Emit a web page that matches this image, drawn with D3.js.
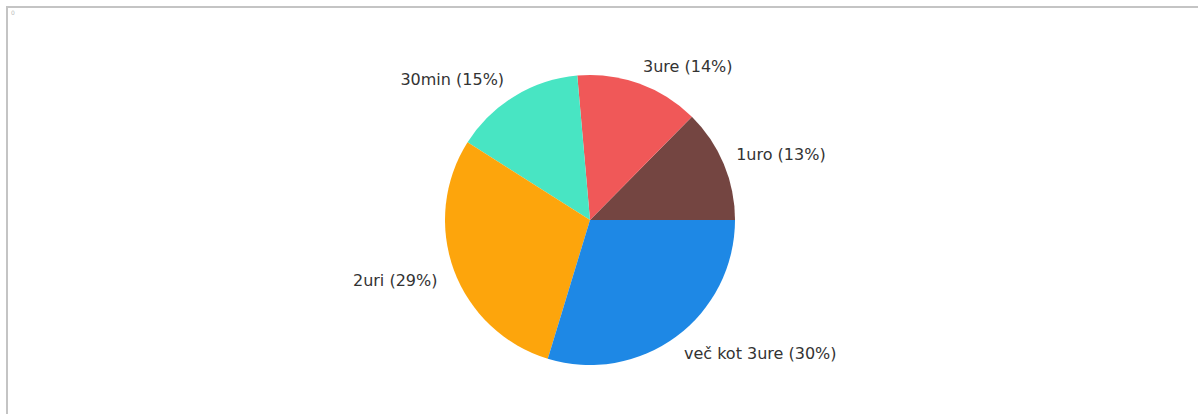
<!DOCTYPE html>
<html>
<head>
<meta charset="utf-8">
<script src="https://cdn.jsdelivr.net/npm/d3@7"></script>
<style>
  body { margin: 0; background: #fff; }
  #plot { width: 1198px; height: 414px; }
  text { font-family: "DejaVu Sans", Verdana, sans-serif; }
</style>
</head>
<body>
<div id="plot"></div>
<script>
// Chart data (counter-clockwise from 3 o'clock, like the original)
var categories = ["1uro", "3ure", "30min", "2uri", "več kot 3ure"];
var values = [12.6, 13.8, 14.6, 29.3, 29.7];
var colours = ["#744541", "#f05858", "#48e5c3", "#fda50c", "#1e88e5"];

var w = 1198, h = 414;
var cx = 590, cy = 220, radius = 145;

var svg = d3.select("#plot").append("svg")
    .attr("width", w)
    .attr("height", h);

// frame (only top and left edges visible)
svg.append("rect").attr("x", 6).attr("y", 6).attr("width", 1194).attr("height", 2).attr("fill", "#c4c4c4");
svg.append("rect").attr("x", 6).attr("y", 6).attr("width", 2).attr("height", 410).attr("fill", "#c4c4c4");
svg.append("text").attr("x", 11).attr("y", 15).attr("font-size", 6).attr("fill", "#bbb").text("0");

var total = d3.sum(values);
var data = categories.map(function(c, i) { return {name: c, value: values[i], colour: colours[i]}; });

// d3 angles: 0 at 12 o'clock, clockwise -> start at 3 o'clock, go anticlockwise
var pie = d3.pie()
    .sort(null)
    .value(function(d) { return d.value; })
    .startAngle(Math.PI / 2)
    .endAngle(Math.PI / 2 - 2 * Math.PI);

var arc = d3.arc().innerRadius(0).outerRadius(radius);

var g = svg.append("g").attr("transform", "translate(" + cx + "," + cy + ")");

var arcs = pie(data);

g.selectAll(".slice")
    .data(arcs)
    .enter().append("path")
    .attr("class", "slice")
    .attr("d", arc)
    .attr("fill", function(d) { return d.data.colour; });

// labels at 1.1 * radius
var labelR = radius * 1.1;
g.selectAll(".label")
    .data(arcs)
    .enter().append("text")
    .attr("class", "label")
    .attr("x", function(d) {
      var m = (d.startAngle + d.endAngle) / 2;
      var x = Math.sin(m) * labelR;
      return x + (x < 0 ? -3 : -1);
    })
    .attr("y", function(d) {
      var m = (d.startAngle + d.endAngle) / 2;
      var y = -Math.cos(m) * labelR;
      return y + (y < 0 ? -4 : 5);
    })
    .attr("dy", "0.35em")
    .attr("text-anchor", function(d) {
      var m = (d.startAngle + d.endAngle) / 2;
      return Math.sin(m) > 0 ? "start" : "end";
    })
    .attr("font-size", 16)
    .attr("fill", "#333")
    .text(function(d) {
      return d.data.name + " (" + Math.round(d.data.value / total * 100) + "%)";
    });
</script>
</body>
</html>
